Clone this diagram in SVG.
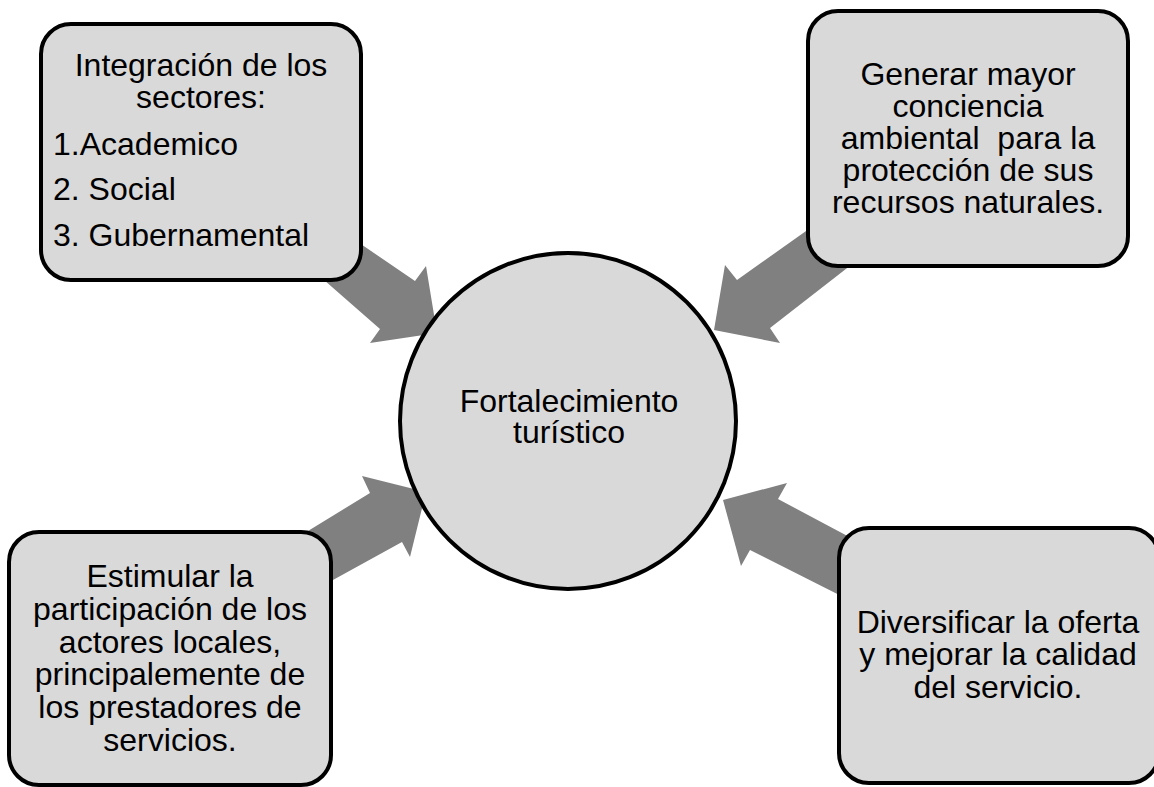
<svg xmlns="http://www.w3.org/2000/svg" width="1154" height="787" viewBox="0 0 1154 787">
<style>
.box{fill:#d9d9d9;stroke:#000;stroke-width:4}
.arr{fill:#808080;stroke:none}
text{font-family:"Liberation Sans",Arial,sans-serif;font-size:32px;fill:#000}
.c{text-anchor:middle}
</style>
<rect width="1154" height="787" fill="#fff"/>
<g id="connectors">
<polygon class="arr" points="330,223 415,281 426,266 437,333 370,343 380,329 300,259"/>
<polygon class="arr" points="830,214 737,280 725,265 714,330 780,343 770,328 860,258"/>
<polygon class="arr" points="290,542 370,493 362,476 426,492 410,557 402,542 313,591"/>
<polygon class="arr" points="870,548 778,499 787,483 723,500 741,566 750,550 867,609"/>
</g>
<g id="center">
<circle class="box" cx="568" cy="421" r="168"/>
<text class="c" x="569" y="412">Fortalecimiento</text>
<text class="c" x="569" y="443">turístico</text>
</g>
<g id="box1">
<rect class="box" x="41" y="24" width="320" height="256" rx="30"/>
<text class="c" x="201" y="76">Integración de los</text>
<text class="c" x="201" y="108">sectores:</text>
<text x="53" y="155">1.Academico</text>
<text x="53" y="200">2. Social</text>
<text x="53" y="246">3. Gubernamental</text>
</g>
<g id="box2">
<rect class="box" x="808" y="11" width="320" height="255" rx="30"/>
<text class="c" x="968" y="85">Generar mayor</text>
<text class="c" x="968" y="117">conciencia</text>
<text class="c" x="968" y="149" xml:space="preserve" style="white-space:pre">ambiental  para la</text>
<text class="c" x="968" y="181">protección de sus</text>
<text class="c" x="968" y="213">recursos naturales.</text>
</g>
<g id="box3">
<rect class="box" x="9" y="532" width="322" height="253" rx="30"/>
<text class="c" x="170" y="587">Estimular la</text>
<text class="c" x="170" y="620">participación de los</text>
<text class="c" x="170" y="653">actores locales,</text>
<text class="c" x="170" y="685">principalemente de</text>
<text class="c" x="170" y="718">los prestadores de</text>
<text class="c" x="170" y="751">servicios.</text>
</g>
<g id="box4">
<rect class="box" x="839" y="528" width="320" height="255" rx="30"/>
<text class="c" x="998" y="633">Diversificar la oferta</text>
<text class="c" x="998" y="665">y mejorar la calidad</text>
<text class="c" x="998" y="698">del servicio.</text>
</g>
</svg>
